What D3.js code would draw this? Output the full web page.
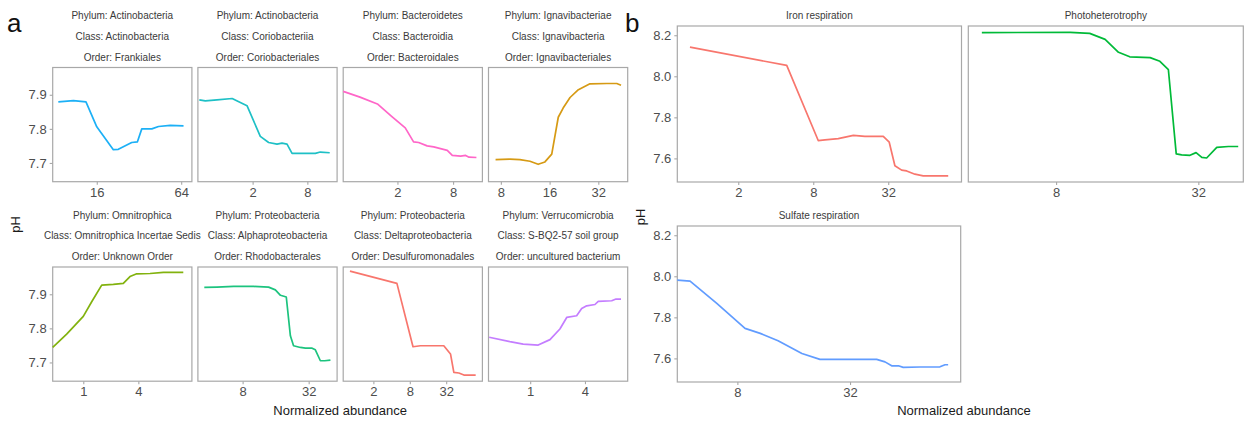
<!DOCTYPE html>
<html>
<head>
<meta charset="utf-8">
<script src="https://cdn.jsdelivr.net/npm/d3@7"></script>
<style>
  body { margin: 0; background: #fff; }
  text { font-family: "Liberation Sans", Arial, Helvetica, sans-serif; }
</style>
</head>
<body>
<svg id="fig" width="1253" height="421"></svg>
<script>
// ---------- panel a: taxa ----------
const phylumA = ["Actinobacteria", "Actinobacteria", "Bacteroidetes", "Ignavibacteriae",
                 "Omnitrophica", "Proteobacteria", "Proteobacteria", "Verrucomicrobia"];
const classA  = ["Actinobacteria", "Coriobacteriia", "Bacteroidia", "Ignavibacteria",
                 "Omnitrophica Incertae Sedis", "Alphaproteobacteria", "Deltaproteobacteria", "S-BQ2-57 soil group"];
const orderA  = ["Frankiales", "Coriobacteriales", "Bacteroidales", "Ignavibacteriales",
                 "Unknown Order", "Rhodobacterales", "Desulfuromonadales", "uncultured bacterium"];
const colorsA = ["#1CB0F6", "#1EC0C6", "#FF66C8", "#D69A14", "#82B20E", "#1CC37E", "#F8766D", "#C47DFF"];

const frankAbund = [8.51, 10.9, 13.4, 16, 21.0, 22.8, 28.4, 31.2, 33.5, 39.5, 44.1, 53.4, 66.5];
const frankPH    = [7.879, 7.883, 7.879, 7.806, 7.739, 7.740, 7.760, 7.762, 7.800, 7.800, 7.807, 7.810, 7.809];
const corioAbund = [0.518, 0.603, 0.811, 1.19, 1.735, 2.43, 3.0, 3.71, 4.21, 4.78, 5.43, 6.7, 9.8, 11.1, 14.1];
const corioPH    = [7.885, 7.882, 7.885, 7.889, 7.868, 7.778, 7.760, 7.755, 7.758, 7.755, 7.728, 7.728, 7.728, 7.732, 7.730];
const bactAbund  = [0.518, 0.787, 1.214, 1.742, 2.43, 2.99, 3.39, 4.19, 4.94, 6.92, 7.84, 9.65, 10.94, 11.9, 14.3];
const bactPH     = [7.910, 7.893, 7.873, 7.836, 7.803, 7.762, 7.760, 7.750, 7.747, 7.737, 7.722, 7.720, 7.722, 7.717, 7.716];
const ignaAbund  = [7.42, 9.09, 10.49, 12.1, 13.6, 14.97, 16.5, 18.1, 19.4, 21.4, 24.1, 28.4, 36.1, 41.6, 44.2];
const ignaPH     = [7.710, 7.711, 7.710, 7.705, 7.696, 7.703, 7.726, 7.834, 7.861, 7.892, 7.915, 7.932, 7.933, 7.933, 7.928];
const omniAbund  = [0.463, 0.658, 1, 1.236, 1.59, 2.13, 2.74, 3.24, 3.84, 5.37, 7.51, 12.4];
const omniPH     = [7.744, 7.783, 7.835, 7.878, 7.927, 7.929, 7.932, 7.952, 7.960, 7.961, 7.964, 7.964];
const rhodoAbund = [3.58, 4.67, 6.62, 10.1, 13.8, 15.9, 17.7, 20.0, 21.8, 23.3, 26.9, 29.9, 34.4, 36.8, 40.9, 44.8, 50.5];
const rhodoPH    = [7.920, 7.921, 7.923, 7.923, 7.921, 7.913, 7.897, 7.892, 7.778, 7.749, 7.744, 7.742, 7.742, 7.737, 7.705, 7.705, 7.707];
const desulAbund = [0.82, 4.9, 9.04, 12.0, 29.2, 37.7, 42.8, 51.8, 62.8, 98.3];
const desulPH    = [7.968, 7.932, 7.746, 7.749, 7.749, 7.725, 7.671, 7.669, 7.663, 7.663];
const unculAbund = [0.354, 0.598, 0.837, 1.225, 1.65, 2.12, 2.52, 3.24, 3.68, 4.18, 5.15, 5.6, 7.87, 8.77, 9.96];
const unculPH    = [7.774, 7.761, 7.754, 7.751, 7.767, 7.798, 7.832, 7.837, 7.858, 7.866, 7.870, 7.879, 7.881, 7.886, 7.886];

// x limits (abundance) and x tick labels of each facet
const xLimitsA = [[7.76, 76.3], [0.5, 17.0], [0.518, 16.6], [6.71, 48.6],
                  [0.463, 15.4], [3.13, 58.1], [0.634, 127], [0.348, 11.8]];
const xTicksA  = [[16, 64], [2, 8], [2, 8], [8, 16, 32],
                  [1, 4], [8, 32], [2, 8, 32], [1, 4]];
const yLimitsA = [7.645, 7.98];
const yTicksA  = [7.7, 7.8, 7.9];

// ---------- panel b: functions ----------
const functionsB = ["Iron respiration", "Photoheterotrophy", "Sulfate respiration"];
const colorsB    = ["#F8766D", "#00BA38", "#619CFF"];
const ironAbund  = [0.819, 4.9, 8.77, 9.93, 12.7, 16.8, 20.8, 29.2, 32.6, 36.2, 41.0, 45.0, 52.4, 61.1, 97.0];
const ironPH     = [8.142, 8.053, 7.687, 7.690, 7.696, 7.712, 7.707, 7.707, 7.679, 7.564, 7.543, 7.539, 7.523, 7.515, 7.515];
const photoAbund = [3.88, 9.17, 11.1, 12.9, 14.7, 16.4, 20.0, 22.0, 23.9, 25.8, 27.2, 29.5, 31.3, 33.1, 34.7, 38.3, 42.9, 47.2];
const photoPH    = [8.213, 8.214, 8.209, 8.180, 8.117, 8.095, 8.091, 8.073, 8.032, 7.622, 7.617, 7.615, 7.628, 7.605, 7.602, 7.654, 7.658, 7.658];
const sulfAbund  = [3.82, 4.47, 6.21, 8.79, 10.6, 13.2, 17.7, 22.1, 28.3, 44.4, 49.2, 53.4, 58.0, 61.6, 75.7, 96.8, 103, 107];
const sulfPH     = [7.981, 7.976, 7.868, 7.746, 7.722, 7.686, 7.624, 7.595, 7.595, 7.595, 7.583, 7.564, 7.564, 7.556, 7.558, 7.559, 7.569, 7.569];

const xLimitsB = [[0.648, 124], [3.4, 49.6], [3.82, 124.9]];
const xTicksB  = [[2, 8, 32], [8, 32], [8, 32]];
const yLimitsB = [7.485, 8.245];
const yTicksB  = [7.6, 7.8, 8.0, 8.2];

// ---------- drawing ----------
const svg = d3.select("#fig");
const BORDER = "#a8a8a8";
const TICK_TEXT = "#4d4d4d";

function panel(box, xs, ys, xLim, xTicks, yLim, yTicks, color, showY, yFmt) {
  const x = d3.scaleLog().base(2).domain(xLim).range([box.x, box.x + box.w]);
  const y = d3.scaleLinear().domain(yLim).range([box.y + box.h, box.y]);
  const g = svg.append("g");

  g.append("rect")
    .attr("x", box.x).attr("y", box.y).attr("width", box.w).attr("height", box.h)
    .attr("fill", "#fff").attr("stroke", BORDER).attr("stroke-width", 1.2);

  const xa = g.append("g").attr("transform", `translate(0,${box.y + box.h})`)
    .call(d3.axisBottom(x).tickValues(xTicks).tickFormat(d3.format("d")).tickSize(3).tickPadding(3));
  xa.select(".domain").remove();
  xa.selectAll("line").attr("stroke", BORDER).attr("stroke-width", 1.1);
  xa.selectAll("text").attr("fill", TICK_TEXT).style("font-size", "13px")
    .style("font-family", "'Liberation Sans', Arial, sans-serif");

  if (showY) {
    const ya = g.append("g").attr("transform", `translate(${box.x},0)`)
      .call(d3.axisLeft(y).tickValues(yTicks).tickFormat(d3.format(yFmt)).tickSize(3).tickPadding(3));
    ya.select(".domain").remove();
    ya.selectAll("line").attr("stroke", BORDER).attr("stroke-width", 1.1);
    ya.selectAll("text").attr("fill", TICK_TEXT).style("font-size", "13px")
      .style("font-family", "'Liberation Sans', Arial, sans-serif");
  }

  const line = d3.line().x(d => x(d[0])).y(d => y(d[1]));
  g.append("path")
    .datum(d3.zip(xs, ys))
    .attr("d", line)
    .attr("fill", "none")
    .attr("stroke", color)
    .attr("stroke-width", 1.7)
    .attr("stroke-linejoin", "round");
  return g;
}

function stripText(lines, cx, top, gap) {
  lines.forEach((t, i) => {
    svg.append("text")
      .attr("x", cx).attr("y", top + i * gap)
      .attr("text-anchor", "middle")
      .attr("fill", "#3a3a3a")
      .style("font-size", "10px")
      .text(t);
  });
}

// panel a grid: 4 columns x 2 rows
const colA = [52.7, 197.9, 343.2, 488.5], wA = 139.2, hA = 114.2;
const rowA = [67.5, 267.0];
const seriesA = [
  [frankAbund, frankPH], [corioAbund, corioPH], [bactAbund, bactPH], [ignaAbund, ignaPH],
  [omniAbund, omniPH], [rhodoAbund, rhodoPH], [desulAbund, desulPH], [unculAbund, unculPH]
];
seriesA.forEach((s, i) => {
  const c = i % 4, r = Math.floor(i / 4);
  const box = { x: colA[c], y: rowA[r], w: wA, h: hA };
  panel(box, s[0], s[1], xLimitsA[i], xTicksA[i], yLimitsA, yTicksA, colorsA[i], c === 0, ".1f");
  stripText(["Phylum: " + phylumA[i], "Class: " + classA[i], "Order: " + orderA[i]],
            box.x + box.w / 2, rowA[r] - 48.5, 20.8);
});

// panel b grid: iron | photo on top, sulfate below
const boxesB = [
  { x: 677.3, y: 26,  w: 284.2, h: 156 },
  { x: 968.3, y: 26,  w: 275.0, h: 156 },
  { x: 677.3, y: 226, w: 283.4, h: 156 }
];
const seriesB = [[ironAbund, ironPH], [photoAbund, photoPH], [sulfAbund, sulfPH]];
seriesB.forEach((s, i) => {
  const box = boxesB[i];
  panel(box, s[0], s[1], xLimitsB[i], xTicksB[i], yLimitsB, yTicksB, colorsB[i], i !== 1, ".1f");
  svg.append("text")
    .attr("x", box.x + box.w / 2).attr("y", box.y - 7)
    .attr("text-anchor", "middle").attr("fill", "#3a3a3a")
    .style("font-size", "10px")
    .text(functionsB[i]);
});

// axis titles
function axisTitle(txt, x, y, rotate) {
  const t = svg.append("text").attr("text-anchor", "middle").attr("fill", "#1a1a1a")
    .style("font-size", "13px").text(txt);
  if (rotate) t.attr("transform", `translate(${x},${y}) rotate(-90)`);
  else t.attr("x", x).attr("y", y);
}
axisTitle("Normalized abundance", (colA[0] + colA[3] + wA) / 2, 415, false);
axisTitle("Normalized abundance", 964, 415, false);
axisTitle("pH", 20, (rowA[0] + rowA[1] + hA) / 2, true);
axisTitle("pH", 645, 217, true);

// figure part letters
svg.append("text").attr("x", 7).attr("y", 32).style("font-size", "26px").attr("fill", "#111").text("a");
svg.append("text").attr("x", 625).attr("y", 32).style("font-size", "26px").attr("fill", "#111").text("b");
</script>
</body>
</html>
